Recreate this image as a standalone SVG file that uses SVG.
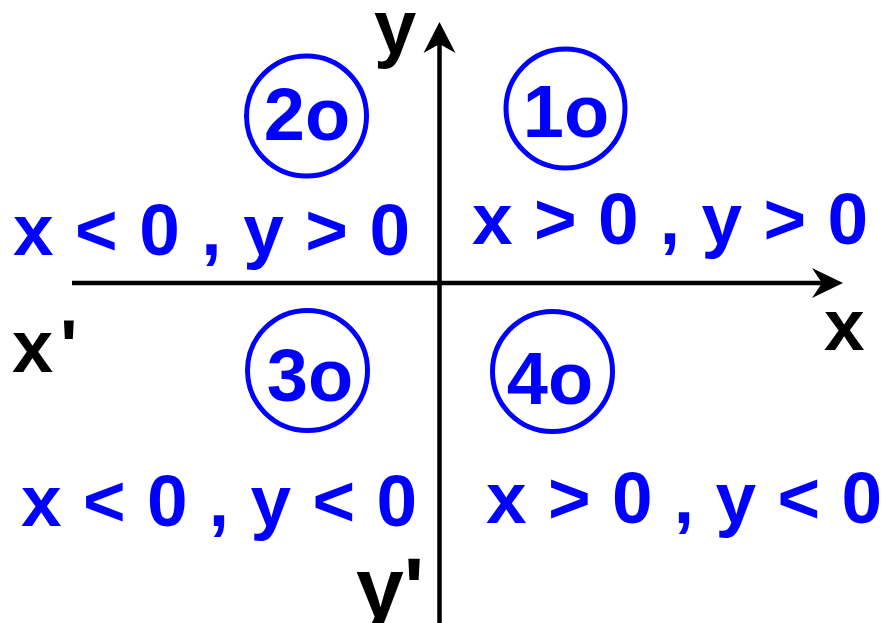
<svg xmlns="http://www.w3.org/2000/svg" width="886" height="623" viewBox="0 0 886 623">
<style>
.axis{stroke:#000;stroke-width:4.5;fill:none}
.head{fill:#000;stroke:none}
.ring{fill:none;stroke:#0000ff;stroke-width:5}
.num{font-family:"Liberation Sans",Arial,sans-serif;font-weight:bold;font-size:74px;fill:#0000ff;text-anchor:middle}
.cond{font-family:"Liberation Sans",Arial,sans-serif;font-weight:bold;font-size:73px;fill:#0000ff}
.lbl{font-family:"Liberation Sans",Arial,sans-serif;font-weight:bold;fill:#000}
</style>
<rect width="886" height="623" fill="#fff"/>
<g id="connectors">
<line class="axis" x1="72" y1="283" x2="830" y2="283"/>
<path class="head" d="M843,283 L812,268 L822,283 L812,298 Z"/>
<line class="axis" x1="439.5" y1="623" x2="439.5" y2="36"/>
<path class="head" d="M439.5,22 L455.5,53 L439.5,44 L423.5,53 Z"/>
</g>
<g id="label-y"><text class="lbl" x="374" y="53" font-size="76">y</text></g>
<g id="label-x"><text class="lbl" x="824" y="350" font-size="73">x</text></g>
<g id="label-x-prime"><text class="lbl" x="12" y="372" font-size="74">x</text><text class="lbl" x="60" y="372" font-size="74">'</text></g>
<g id="label-y-prime"><text class="lbl" x="356" y="617" font-size="86">y'</text></g>
<g id="q1">
<circle class="ring" cx="565.5" cy="108.5" r="59.5"/>
<text class="num" x="566" y="137">1o</text>
<text class="cond" x="472" y="244" textLength="396" lengthAdjust="spacing">x &gt; 0 , y &gt; 0</text>
</g>
<g id="q2">
<circle class="ring" cx="306.5" cy="116" r="60"/>
<text class="num" x="307" y="140">2o</text>
<text class="cond" x="13" y="255" textLength="397" lengthAdjust="spacing">x &lt; 0 , y &gt; 0</text>
</g>
<g id="q3">
<circle class="ring" cx="307.5" cy="370.5" r="60"/>
<text class="num" x="310" y="401">3o</text>
<text class="cond" x="21" y="526" textLength="396" lengthAdjust="spacing">x &lt; 0 , y &lt; 0</text>
</g>
<g id="q4">
<circle class="ring" cx="552.5" cy="371.5" r="60"/>
<text class="num" x="550" y="404">4o</text>
<text class="cond" x="486" y="523" textLength="396" lengthAdjust="spacing">x &gt; 0 , y &lt; 0</text>
</g>
</svg>
